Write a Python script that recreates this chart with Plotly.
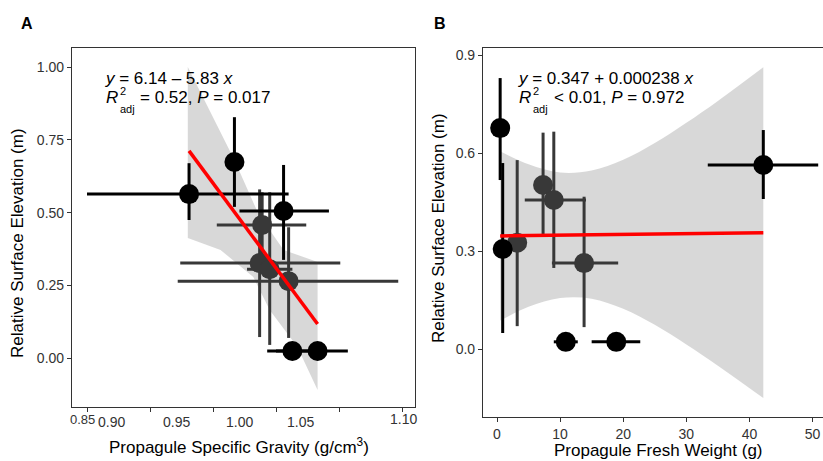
import plotly.graph_objects as go

W, H = 823, 461
FONT = "Liberation Sans, Arial, sans-serif"
BLACK = "#000000"
GRAY = "#383838"
AX = "#333333"

# ---------------- Panel A data (Propagule specific gravity) ----------------
a_black_x = [0.931, 0.967, 1.006, 1.013, 1.033]
a_black_y = [0.564, 0.674, 0.506, 0.025, 0.025]
a_black_xlo = [0.850, 0.967, 0.971, 0.993, 1.000]
a_black_xhi = [1.010, 0.967, 1.042, 1.030, 1.057]
a_black_ylo = [0.475, 0.520, 0.338, 0.025, 0.025]
a_black_yhi = [0.670, 0.828, 0.664, 0.025, 0.025]

a_gray_x = [0.989, 0.987, 0.995, 1.010]
a_gray_y = [0.458, 0.327, 0.306, 0.265]
a_gray_xlo = [0.953, 0.924, 0.977, 0.922]
a_gray_xhi = [1.024, 1.051, 1.013, 1.097]
a_gray_ylo = [0.300, 0.073, 0.046, 0.070]
a_gray_yhi = [0.570, 0.580, 0.570, 0.450]

a_intercept, a_slope = 6.14, -5.83

a_band_up_x = [0.930, 0.967, 0.987, 0.995, 1.006, 1.033]
a_band_up_y = [1.000, 0.681, 0.486, 0.441, 0.372, 0.331]
a_band_lo_x = [0.930, 0.956, 0.982, 0.995, 1.017, 1.033]
a_band_lo_y = [0.413, 0.372, 0.279, 0.166, 0.039, -0.109]

a_xtick_vals = [0.85, 0.90, 0.95, 1.00, 1.05, 1.10]
a_xlabel_text = ["0.85", "0.90", "0.95", "1.00", "1.05", "1.10"]
a_xlabel_pos = [0.8468, 0.8698, 0.9214, 0.9714, 1.0198, 1.1010]
a_ytick_vals = [0.00, 0.25, 0.50, 0.75, 1.00]
a_ytick_text = ["0.00", "0.25", "0.50", "0.75", "1.00"]

# ---------------- Panel B data (Propagule fresh weight) ----------------
b_black_x = [0.5, 0.9, 10.9, 18.9, 42.2]
b_black_y = [0.677, 0.307, 0.023, 0.023, 0.564]
b_black_xlo = [0.5, 0.9, 9.0, 15.0, 33.4]
b_black_xhi = [0.5, 0.9, 12.8, 22.7, 50.9]
b_black_ylo = [0.518, 0.050, 0.023, 0.023, 0.460]
b_black_yhi = [0.830, 0.570, 0.023, 0.023, 0.671]

b_gray_x = [3.2, 7.3, 9.0, 13.8]
b_gray_y = [0.326, 0.503, 0.457, 0.264]
b_gray_xlo = [3.2, 7.3, 4.4, 8.7]
b_gray_xhi = [3.2, 7.3, 14.1, 19.2]
b_gray_ylo = [0.071, 0.344, 0.249, 0.068]
b_gray_yhi = [0.579, 0.663, 0.666, 0.467]

b_intercept, b_slope = 0.347, 0.000238

b_band_x = [0.5, 5, 10, 15, 20, 25, 30, 35, 42.2]
b_band_up = [0.606, 0.566, 0.541, 0.547, 0.580, 0.631, 0.693, 0.760, 0.863]
b_band_lo = [0.088, 0.130, 0.157, 0.155, 0.124, 0.075, 0.015, -0.050, -0.149]

b_xtick_vals = [0, 10, 20, 30, 40, 50]
b_ytick_vals = [0.0, 0.3, 0.6, 0.9]
b_ytick_text = ["0.0", "0.3", "0.6", "0.9"]


def fx(p):
    return p / W


def fy(p):
    return (H - p) / H


def pts(x, y, xlo, xhi, ylo, yhi, color, xa, ya):
    return go.Scatter(
        x=x, y=y, mode="markers", xaxis=xa, yaxis=ya, showlegend=False,
        marker=dict(size=20, color=color, line=dict(width=0)),
        error_x=dict(type="data", symmetric=False,
                     array=[h - v for h, v in zip(xhi, x)],
                     arrayminus=[v - l for v, l in zip(x, xlo)],
                     color=color, thickness=3, width=0),
        error_y=dict(type="data", symmetric=False,
                     array=[h - v for h, v in zip(yhi, y)],
                     arrayminus=[v - l for v, l in zip(y, ylo)],
                     color=color, thickness=3, width=0),
    )


fig = go.Figure()
BAND = "rgba(153,153,153,0.38)"

# Panel A band
fig.add_trace(go.Scatter(
    x=a_band_up_x + a_band_lo_x[::-1], y=a_band_up_y + a_band_lo_y[::-1],
    fill="toself", fillcolor=BAND, line=dict(width=0), mode="lines",
    xaxis="x", yaxis="y", showlegend=False, hoverinfo="skip"))
fig.add_trace(pts(a_gray_x, a_gray_y, a_gray_xlo, a_gray_xhi, a_gray_ylo, a_gray_yhi, GRAY, "x", "y"))
fig.add_trace(pts(a_black_x, a_black_y, a_black_xlo, a_black_xhi, a_black_ylo, a_black_yhi, BLACK, "x", "y"))
a_all_x = a_black_x + a_gray_x
a_lx = [min(a_all_x), max(a_all_x)]
fig.add_trace(go.Scatter(x=a_lx, y=[a_intercept + a_slope * v for v in a_lx], mode="lines",
                         line=dict(color="#ff0000", width=3.5), xaxis="x", yaxis="y", showlegend=False))

# Panel B band (lower edge, then upper edge filled down to it)
fig.add_trace(go.Scatter(
    x=b_band_x, y=b_band_lo, mode="lines", line=dict(width=0, shape="spline", color="rgba(0,0,0,0)"),
    xaxis="x2", yaxis="y2", showlegend=False, hoverinfo="skip"))
fig.add_trace(go.Scatter(
    x=b_band_x, y=b_band_up, mode="lines", fill="tonexty", fillcolor=BAND,
    line=dict(width=0, shape="spline", color="rgba(0,0,0,0)"),
    xaxis="x2", yaxis="y2", showlegend=False, hoverinfo="skip"))
fig.add_trace(pts(b_gray_x, b_gray_y, b_gray_xlo, b_gray_xhi, b_gray_ylo, b_gray_yhi, GRAY, "x2", "y2"))
fig.add_trace(pts(b_black_x, b_black_y, b_black_xlo, b_black_xhi, b_black_ylo, b_black_yhi, BLACK, "x2", "y2"))
b_all_x = b_black_x + b_gray_x
b_lx = [min(b_all_x), max(b_all_x)]
fig.add_trace(go.Scatter(x=b_lx, y=[b_intercept + b_slope * v for v in b_lx], mode="lines",
                         line=dict(color="#ff0000", width=3.5), xaxis="x2", yaxis="y2", showlegend=False))

axis_common = dict(showline=True, linecolor=AX, linewidth=1.2, ticks="outside", ticklen=4,
                   tickcolor=AX, tickwidth=1.2, showgrid=False, zeroline=False,
                   tickfont=dict(family=FONT, size=14, color=AX), automargin=False)

fig.update_layout(
    width=W, height=H, margin=dict(l=0, r=0, t=0, b=0),
    paper_bgcolor="white", plot_bgcolor="rgba(0,0,0,0)",
    xaxis=dict(domain=[fx(72), fx(415)], range=[0.8381, 1.1103], anchor="y",
               tickvals=a_xtick_vals, showticklabels=False, mirror=True, **axis_common),
    yaxis=dict(domain=[fy(407), fy(48)], range=[-0.1672, 1.0656], anchor="x",
               tickvals=a_ytick_vals, ticktext=a_ytick_text, mirror=True, **axis_common),
    xaxis2=dict(domain=[fx(483), 1.0], range=[-2.22, 51.66], anchor="y2",
                tickvals=b_xtick_vals, mirror=True, **axis_common),
    yaxis2=dict(domain=[fy(417), fy(48)], range=[-0.207, 0.922], anchor="x2",
                tickvals=b_ytick_vals, ticktext=b_ytick_text, mirror=False, **axis_common),
)

ann = []
# Panel A x tick labels (offset from the tick marks as in the source)
for pos, txt in zip(a_xlabel_pos, a_xlabel_text):
    small = txt in ("0.85",)
    raised = txt in ("0.85", "1.10")
    ann.append(dict(x=pos, y=fy(419 if raised else 422), xref="x", yref="paper", text=txt,
                    showarrow=False, xanchor="center", yanchor="middle",
                    font=dict(family=FONT, size=13 if small else 14, color=AX)))


def t(px, py, text, size=16, xanchor="left", bold=False, angle=0):
    ann.append(dict(x=fx(px), y=fy(py), xref="paper", yref="paper",
                    text=("<b>%s</b>" % text) if bold else text,
                    showarrow=False, xanchor=xanchor, yanchor="middle", textangle=angle,
                    borderpad=0, font=dict(family=FONT, size=size, color="#000000")))


t(27, 23, "A", 16, "center", bold=True)
t(440, 23, "B", 16, "center", bold=True)

# Panel A equation
t(104, 79, "<i>y</i> = 6.14 \u2013 5.83 <i>x</i>", 17)
t(105, 97, "<i>R</i>", 17)
t(119, 91, "2", 11)
t(119, 109, "adj", 11)
t(139, 97, "= 0.52, <i>P</i> = 0.017", 17)

# Panel B equation
t(517, 79, "<i>y</i> = 0.347 + 0.000238 <i>x</i>", 17)
t(518, 97, "<i>R</i>", 17)
t(532, 91, "2", 11)
t(532, 109, "adj", 11)
t(553, 97, "< 0.01, <i>P</i> = 0.972", 17)

# Axis titles
t(18, 243, "Relative Surface Elevation (m)", 17, "center", angle=-90)
t(438, 228, "Relative Surface Elevation (m)", 17, "center", angle=-90)
t(239, 446, "Propagule Specific Gravity (g/cm<sup>3</sup>)", 17, "center")
t(658, 450, "Propagule Fresh Weight (g)", 17, "center")

fig.update_layout(annotations=ann)
fig.write_html("out.html", config={"displayModeBar": False},
               post_script="document.body.style.margin='0';document.body.style.padding='0';")
